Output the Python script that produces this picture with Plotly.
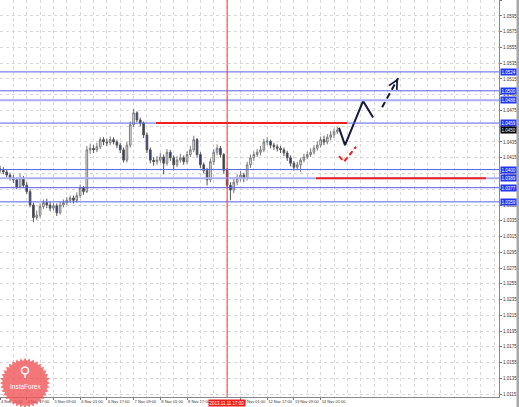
import numpy as np
import plotly.graph_objects as go

# ---------------- data ----------------
x_tick_pos = [0, 8, 16, 24, 32, 40, 48, 56, 72, 80, 88, 96]
x_tick_text = ["4 Nov 01:00", "4 Nov 17:00", "5 Nov 09:00", "6 Nov 01:00", "6 Nov 17:00",
               "7 Nov 09:00", "8 Nov 01:00", "8 Nov 17:00", "12 Nov 01:00", "12 Nov 17:00",
               "13 Nov 09:00", "14 Nov 01:00"]

opens = [1.0401, 1.0399, 1.0397, 1.0393, 1.0389, 1.0387, 1.0378, 1.0389, 1.0380, 1.0372,
         1.0355, 1.0339, 1.0342, 1.0353, 1.0358, 1.0355, 1.0351, 1.0354, 1.0345, 1.0355,
         1.0358, 1.0361, 1.0364, 1.0361, 1.0367, 1.0377, 1.0372, 1.0425, 1.0427, 1.0425,
         1.0429, 1.0438, 1.0435, 1.0434, 1.0438, 1.0435, 1.0431, 1.0425, 1.0412, 1.0431,
         1.0457, 1.0472, 1.0463, 1.0459, 1.0444, 1.0425, 1.0412, 1.0410, 1.0412, 1.0416,
         1.0408, 1.0422, 1.0415, 1.0406, 1.0412, 1.0415, 1.0410, 1.0419, 1.0425, 1.0438,
         1.0419, 1.0406, 1.0399, 1.0387, 1.0410, 1.0422, 1.0427, 1.0419, 1.0399, 1.0380,
         1.0374, 1.0384, 1.0389, 1.0393, 1.0389, 1.0406, 1.0415, 1.0419, 1.0422, 1.0425,
         1.0435, 1.0436, 1.0431, 1.0429, 1.0427, 1.0425, 1.0421, 1.0415, 1.0408, 1.0403,
         1.0406, 1.0412, 1.0416, 1.0419, 1.0422, 1.0427, 1.0431, 1.0438, 1.0435, 1.0441,
         1.0444, 1.0448]
highs = [1.0405, 1.0403, 1.0400, 1.0396, 1.0393, 1.0390, 1.0395, 1.0392, 1.0384, 1.0375,
         1.0358, 1.0348, 1.0357, 1.0362, 1.0363, 1.0359, 1.0358, 1.0357, 1.0359, 1.0362,
         1.0365, 1.0367, 1.0367, 1.0371, 1.0381, 1.0379, 1.0430, 1.0433, 1.0431, 1.0434,
         1.0441, 1.0441, 1.0439, 1.0442, 1.0441, 1.0438, 1.0434, 1.0428, 1.0435, 1.0461,
         1.0477, 1.0474, 1.0466, 1.0461, 1.0447, 1.0428, 1.0416, 1.0417, 1.0421, 1.0419,
         1.0426, 1.0425, 1.0418, 1.0417, 1.0420, 1.0418, 1.0423, 1.0430, 1.0443, 1.0440,
         1.0422, 1.0409, 1.0402, 1.0414, 1.0426, 1.0432, 1.0430, 1.0421, 1.0402, 1.0384,
         1.0388, 1.0394, 1.0398, 1.0396, 1.0410, 1.0419, 1.0423, 1.0426, 1.0430, 1.0439,
         1.0441, 1.0438, 1.0434, 1.0432, 1.0430, 1.0428, 1.0424, 1.0418, 1.0411, 1.0410,
         1.0415, 1.0420, 1.0423, 1.0427, 1.0431, 1.0436, 1.0442, 1.0443, 1.0445, 1.0449,
         1.0452, 1.0454]
lows = [1.0396, 1.0394, 1.0390, 1.0386, 1.0383, 1.0375, 1.0376, 1.0377, 1.0369, 1.0352,
        1.0333, 1.0336, 1.0339, 1.0350, 1.0351, 1.0347, 1.0348, 1.0341, 1.0343, 1.0352,
        1.0355, 1.0358, 1.0357, 1.0358, 1.0364, 1.0368, 1.0370, 1.0420, 1.0421, 1.0422,
        1.0426, 1.0431, 1.0430, 1.0431, 1.0432, 1.0427, 1.0421, 1.0409, 1.0409, 1.0428,
        1.0454, 1.0460, 1.0455, 1.0440, 1.0421, 1.0408, 1.0405, 1.0406, 1.0409, 1.0394,
        1.0405, 1.0411, 1.0399, 1.0403, 1.0409, 1.0406, 1.0407, 1.0416, 1.0422, 1.0415,
        1.0402, 1.0395, 1.0380, 1.0384, 1.0406, 1.0418, 1.0415, 1.0395, 1.0376, 1.0361,
        1.0370, 1.0380, 1.0385, 1.0384, 1.0386, 1.0402, 1.0411, 1.0416, 1.0418, 1.0422,
        1.0431, 1.0427, 1.0425, 1.0423, 1.0421, 1.0417, 1.0411, 1.0404, 1.0399, 1.0399,
        1.0397, 1.0409, 1.0413, 1.0416, 1.0419, 1.0424, 1.0428, 1.0431, 1.0432, 1.0437,
        1.0440, 1.0445]
closes = [1.0399, 1.0397, 1.0393, 1.0389, 1.0387, 1.0378, 1.0389, 1.0380, 1.0372, 1.0355,
          1.0339, 1.0342, 1.0353, 1.0358, 1.0355, 1.0351, 1.0354, 1.0345, 1.0355, 1.0358,
          1.0361, 1.0364, 1.0361, 1.0367, 1.0377, 1.0372, 1.0425, 1.0427, 1.0425, 1.0429,
          1.0438, 1.0435, 1.0434, 1.0438, 1.0435, 1.0431, 1.0425, 1.0412, 1.0431, 1.0457,
          1.0472, 1.0463, 1.0459, 1.0444, 1.0425, 1.0412, 1.0410, 1.0412, 1.0416, 1.0408,
          1.0422, 1.0415, 1.0406, 1.0412, 1.0415, 1.0410, 1.0419, 1.0425, 1.0438, 1.0419,
          1.0406, 1.0399, 1.0387, 1.0410, 1.0422, 1.0427, 1.0419, 1.0399, 1.0380, 1.0374,
          1.0384, 1.0389, 1.0393, 1.0389, 1.0406, 1.0415, 1.0419, 1.0422, 1.0425, 1.0435,
          1.0436, 1.0431, 1.0429, 1.0427, 1.0425, 1.0421, 1.0415, 1.0408, 1.0403, 1.0406,
          1.0412, 1.0416, 1.0419, 1.0422, 1.0427, 1.0431, 1.0438, 1.0435, 1.0441, 1.0444,
          1.0448, 1.0450]
bars = list(range(len(closes)))

blue_levels = [1.0524, 1.0500, 1.0488, 1.0459, 1.0400, 1.0389, 1.0377, 1.0359]
thick_levels = [1.0488, 1.0389]
red_level_prices = [1.0459, 1.0389]
red_level_start = [46.7, 94.6]
red_level_end = [103.9, 145.5]
vline_bar = 68
vline_label = "2013.11.11 17:00"

forecast_solid_x = [101.5, 103.3, 108.7, 111.7]
forecast_solid_y = [1.0453, 1.0431, 1.0487, 1.0466]
forecast_dash_x = [114.4, 119.2]
forecast_dash_y = [1.0479, 1.0516]
alt_x = [101.5, 103.0, 106.6]
alt_y = [1.0417, 1.0410, 1.0429]

# ---------------- figure ----------------
W, H = 519, 407
ML, MR, MT, MB = 0, 20, 0, 10
PW, PH = W - ML - MR, H - MT - MB
x_range = [0, 149.4]
y_range = [1.01112, 1.06153]
FONT = "Liberation Sans"

fig = go.Figure()

fig.add_trace(go.Candlestick(
    x=bars, open=opens, high=highs, low=lows, close=closes,
    increasing=dict(line=dict(color="#7a7a7a", width=1), fillcolor="#f4f4f4"),
    decreasing=dict(line=dict(color="#555555", width=1), fillcolor="#22309a"),
    whiskerwidth=0, showlegend=False, hoverinfo="skip"))

shapes = []
for lv in blue_levels:
    thick = lv in thick_levels
    shapes.append(dict(type="line", xref="paper", yref="y", x0=0, x1=1, y0=lv, y1=lv,
                       line=dict(color="#a9aef5" if thick else "#5963e6", width=2 if thick else 1),
                       layer="above"))
for p, s, e in zip(red_level_prices, red_level_start, red_level_end):
    shapes.append(dict(type="line", xref="x", yref="y", x0=s, x1=e, y0=p, y1=p,
                       line=dict(color="#ee2222", width=2), layer="above"))
shapes.append(dict(type="line", xref="x", yref="paper", x0=vline_bar, x1=vline_bar, y0=0, y1=1,
                   line=dict(color="#ff3030", width=1), layer="above"))

# right gray border strip
shapes.append(dict(type="rect", xref="paper", yref="paper", x0=(516.5 - ML) / PW, x1=(520 - ML) / PW,
                   y0=-0.05, y1=1.01, fillcolor="#a8a8a8", line=dict(width=0), layer="above"))

def px2paper(px, py):
    return (px - ML) / PW, (H - MB - py) / PH

# watermark starburst
cx, cy, r_out, r_in, n = 25, 383, 25, 22, 36
pts = []
for k in range(2 * n):
    ang = np.pi * k / n
    r = r_out if k % 2 == 0 else r_in
    pts.append(px2paper(cx + r * np.cos(ang), cy + r * np.sin(ang)))
path = "M " + " L ".join(f"{a:.5f},{b:.5f}" for a, b in pts) + " Z"
shapes.append(dict(type="path", xref="paper", yref="paper", path=path,
                   fillcolor="rgba(240,80,82,0.78)", line=dict(width=0), layer="above"))
lx0, ly0 = px2paper(21.5, 367)
lx1, ly1 = px2paper(28.5, 374)
shapes.append(dict(type="circle", xref="paper", yref="paper", x0=lx0, x1=lx1, y0=ly1, y1=ly0,
                   line=dict(color="white", width=1.5), layer="above"))
sx0, sy0 = px2paper(25, 373)
sx1, sy1 = px2paper(25, 378)
shapes.append(dict(type="line", xref="paper", yref="paper", x0=sx0, x1=sx1, y0=sy0, y1=sy1,
                   line=dict(color="white", width=1.5), layer="above"))

fig.add_trace(go.Scatter(x=forecast_solid_x, y=forecast_solid_y, mode="lines",
                         line=dict(color="#111a3a", width=2), showlegend=False, hoverinfo="skip"))
fig.add_trace(go.Scatter(x=forecast_dash_x, y=forecast_dash_y, mode="lines",
                         line=dict(color="#111a3a", width=2, dash="6px,4px"), showlegend=False,
                         hoverinfo="skip"))
fig.add_trace(go.Scatter(x=alt_x, y=alt_y, mode="lines",
                         line=dict(color="#ee2222", width=2, dash="5px,3px"), showlegend=False,
                         hoverinfo="skip"))

annotations = []
def arrowhead(xs, ys, color, width):
    x1, y1, x0, y0 = xs[-1], ys[-1], xs[-2], ys[-2]
    annotations.append(dict(x=x1, y=y1, ax=x1 - 0.18 * (x1 - x0), ay=y1 - 0.18 * (y1 - y0),
                            xref="x", yref="y", axref="x", ayref="y", text="", showarrow=True,
                            arrowhead=5, arrowsize=1.1, arrowwidth=width, arrowcolor=color))
arrowhead(forecast_solid_x, forecast_solid_y, "#111a3a", 1.6)
arrowhead(forecast_dash_x, forecast_dash_y, "#111a3a", 1.6)
arrowhead(alt_x, alt_y, "#ee2222", 1.5)

for lv in blue_levels:
    annotations.append(dict(xref="paper", yref="y", x=1, y=lv, xanchor="left", xshift=1,
                            text=f"{lv:.4f}", showarrow=False, bgcolor="#2236f0",
                            font=dict(color="white", size=4.5, family=FONT), borderpad=0.5))
annotations.append(dict(xref="paper", yref="y", x=1, y=closes[-1], xanchor="left", xshift=1,
                        text=f"{closes[-1]:.4f}", showarrow=False, bgcolor="#000000",
                        font=dict(color="white", size=4.5, family=FONT), borderpad=0.5))
annotations.append(dict(xref="x", yref="paper", x=vline_bar, y=0, yanchor="top", yshift=-2,
                        text=vline_label, showarrow=False, bgcolor="#ee1c1c",
                        font=dict(color="white", size=4.5, family=FONT), borderpad=0.5))
wx, wy = px2paper(25, 386)
annotations.append(dict(xref="paper", yref="paper", x=wx, y=wy, xanchor="center", yanchor="middle",
                        text="InstaForex", showarrow=False,
                        font=dict(color="white", size=6.5, family=FONT)))

fig.update_layout(
    width=W, height=H, margin=dict(l=ML, r=MR, t=MT, b=MB, autoexpand=False),
    paper_bgcolor="white", plot_bgcolor="white",
    shapes=shapes, annotations=annotations,
    xaxis=dict(range=x_range, rangeslider=dict(visible=False), tickmode="array",
               tickvals=x_tick_pos, ticktext=x_tick_text, ticklabelposition="outside right",
               tickangle=0, automargin=False,
               tickfont=dict(size=4, color="#333", family=FONT),
               ticks="outside", ticklen=2, tickcolor="#777",
               showgrid=True, gridcolor="#d8d8d8", griddash="dot", gridwidth=1,
               minor=dict(dtick=4, tick0=0, showgrid=True, gridcolor="#d8d8d8", griddash="dot"),
               showline=True, linecolor="#888", mirror=True, zeroline=False, fixedrange=True),
    yaxis=dict(range=y_range, side="right", dtick=0.002, tick0=1.0115, tickformat=".4f",
               automargin=False,
               tickfont=dict(size=4.5, color="#333", family=FONT),
               ticks="outside", ticklen=2, tickcolor="#777",
               showgrid=True, gridcolor="#d8d8d8", griddash="dot", gridwidth=1,
               showline=True, linecolor="#888", mirror=True, zeroline=False, fixedrange=True),
    showlegend=False,
)

fig.write_html("out.html", config={"displayModeBar": False},
               post_script="document.body.style.margin='0';document.body.style.overflow='hidden';")
